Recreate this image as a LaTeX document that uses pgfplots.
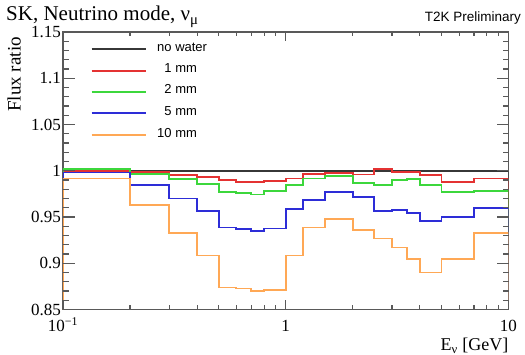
\documentclass[border=0pt]{standalone}
\usepackage{fontspec}
\setmainfont{Liberation Serif}
\newfontfamily\arial{Liberation Sans}
\usepackage{pgfplots}
\pgfplotsset{compat=1.18}
\definecolor{cred}{RGB}{228,50,50}
\definecolor{cgreen}{RGB}{60,215,60}
\definecolor{cblue}{RGB}{45,45,215}
\definecolor{corange}{RGB}{255,168,85}
\definecolor{cblack}{RGB}{55,55,55}
\tikzset{tk/.style={draw=black!65, line width=1.1pt}}
\begin{document}
\begin{tikzpicture}
\begin{axis}[
  at={(0pt,0pt)}, anchor=south west,
  scale only axis, width=445.5pt, height=277.5pt,
  xmode=log, xmin=0.1, xmax=10, ymin=0.85, ymax=1.15,
  xtick={0.1,1,10}, xticklabels={10\textsuperscript{−1},1,10},
  ytick={0.85,0.9,0.95,1,1.05,1.1,1.15},
  yticklabels={0.85,0.9,0.95,1,1.05,1.1,1.15},
  major tick length=0pt, minor tick length=0pt,
  axis line style={black!65, line width=1.3pt},
  xticklabel style={anchor=base, yshift=-22.2pt, font=\fontsize{17}{19}\selectfont},
  yticklabel style={inner sep=2pt, font=\fontsize{17}{19}\selectfont},
  every axis plot/.append style={line width=1.8pt, const plot mark left, mark=none},
]
\addplot[cblack] coordinates {(0.1,0) (0.1,1.0) (10,1.0) (10,0)};
\addplot[cred] coordinates {(0.1,0) (0.1,0.9995) (0.2,0.999) (0.3,0.9953) (0.4,0.9928) (0.5,0.990) (0.6,0.9878) (0.7,0.9878) (0.8,0.989) (1.0,0.9917) (1.2,0.9964) (1.5,0.9975) (2.0,0.996) (2.5,1.0018) (3.0,0.999) (3.5,0.999) (4.0,0.9953) (5.0,0.988) (7.0,0.9917) (10,0.9917) (10,0)};
\addplot[cgreen] coordinates {(0.1,0) (0.1,1.0015) (0.2,0.9964) (0.3,0.9907) (0.4,0.9856) (0.5,0.977) (0.6,0.976) (0.7,0.9744) (0.8,0.9784) (1.0,0.985) (1.2,0.9917) (1.5,0.9945) (2.0,0.9864) (2.5,0.9848) (3.0,0.990) (3.5,0.991) (4.0,0.9845) (5.0,0.9766) (7.0,0.978) (10,0.978) (10,0)};
\addplot[cblue] coordinates {(0.1,0) (0.1,0.998) (0.2,0.9845) (0.3,0.970) (0.4,0.9567) (0.5,0.9387) (0.6,0.9366) (0.7,0.9347) (0.8,0.9376) (1.0,0.9582) (1.2,0.9683) (1.5,0.9773) (2.0,0.972) (2.5,0.9564) (3.0,0.9575) (3.5,0.9546) (4.0,0.9456) (5.0,0.950) (7.0,0.960) (10,0.960) (10,0)};
\addplot[corange] coordinates {(0.1,0) (0.1,0.9917) (0.2,0.963) (0.3,0.933) (0.4,0.9084) (0.5,0.8738) (0.6,0.8727) (0.7,0.870) (0.8,0.871) (1.0,0.9084) (1.2,0.9387) (1.5,0.9477) (2.0,0.9358) (2.5,0.9268) (3.0,0.917) (3.5,0.905) (4.0,0.890) (5.0,0.905) (7.0,0.933) (10,0.933) (10,0)};
\end{axis}
% ticks on all four sides, drawn on the axis frame (axis box: 0..445.5pt x 0..277.5pt)
\foreach \v in {0.85,0.9,0.95,1,1.05,1.1,1.15}{
  \draw[tk] (0pt,{(\v-0.85)/0.3*277.5pt}) -- ++(12pt,0pt);
  \draw[tk] (445.5pt,{(\v-0.85)/0.3*277.5pt}) -- ++(-12pt,0pt);
}
\foreach \v in {0.86,0.87,0.88,0.89,0.91,0.92,0.93,0.94,0.96,0.97,0.98,0.99,1.01,1.02,1.03,1.04,1.06,1.07,1.08,1.09,1.11,1.12,1.13,1.14}{
  \draw[tk] (0pt,{(\v-0.85)/0.3*277.5pt}) -- ++(6pt,0pt);
  \draw[tk] (445.5pt,{(\v-0.85)/0.3*277.5pt}) -- ++(-6pt,0pt);
}
\foreach \v in {0.1,1,10}{
  \draw[tk] ({ln(\v/0.1)/ln(100)*445.5pt},0pt) -- ++(0pt,9pt);
  \draw[tk] ({ln(\v/0.1)/ln(100)*445.5pt},277.5pt) -- ++(0pt,-9pt);
}
\foreach \v in {0.2,0.3,0.4,0.5,0.6,0.7,0.8,0.9,2,3,4,5,6,7,8,9}{
  \draw[tk] ({ln(\v/0.1)/ln(100)*445.5pt},0pt) -- ++(0pt,4.5pt);
  \draw[tk] ({ln(\v/0.1)/ln(100)*445.5pt},277.5pt) -- ++(0pt,-4.5pt);
}
% legend
\begin{scope}[every node/.style={inner sep=0pt, anchor=mid west, font=\arial\fontsize{13}{15}\selectfont}]
\draw[cblack, line width=1.8pt] (28.7pt,260.2pt) -- (83pt,260.2pt);
\node at (94pt,260.2pt) {no water};
\draw[cred, line width=1.8pt] (28.7pt,238.8pt) -- (83pt,238.8pt);
\node at (94pt,238.8pt) {\hphantom{0}1 mm};
\draw[cgreen, line width=1.8pt] (28.7pt,217.8pt) -- (83pt,217.8pt);
\node at (94pt,217.8pt) {\hphantom{0}2 mm};
\draw[cblue, line width=1.8pt] (28.7pt,196.2pt) -- (83pt,196.2pt);
\node at (94pt,196.2pt) {\hphantom{0}5 mm};
\draw[corange, line width=1.8pt] (28.7pt,174.5pt) -- (83pt,174.5pt);
\node at (94pt,174.5pt) {10 mm};
\end{scope}
% titles and labels
\node[anchor=base west, inner sep=0pt, font=\fontsize{21}{24}\selectfont] at (-57pt,288.5pt) {SK, Neutrino mode, ν\textsubscript{μ}};
\node[anchor=base east, inner sep=0pt, font=\arial\fontsize{13.5}{16}\selectfont] at (458pt,287.5pt) {T2K Preliminary};
\node[anchor=base east, rotate=90, inner sep=0pt, font=\fontsize{19}{21}\selectfont] at (-42.3pt,272.5pt) {Flux ratio};
\node[anchor=base east, inner sep=0pt, font=\fontsize{18}{20}\selectfont] at (445.5pt,-41pt) {E\textsubscript{ν} [GeV]};
\pgfresetboundingbox
\path (-63pt,-45.5pt) rectangle (462pt,309.5pt);
\end{tikzpicture}
\end{document}
